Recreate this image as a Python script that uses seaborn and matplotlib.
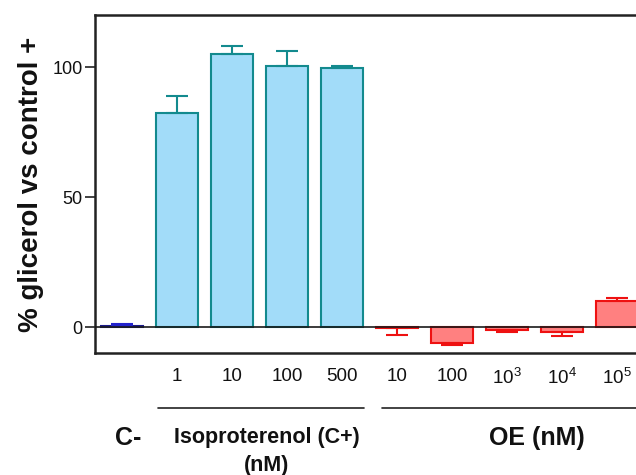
import matplotlib
matplotlib.use("Agg")
import matplotlib.pyplot as plt
import matplotlib.transforms as mtransforms
import seaborn as sns
import numpy as np
import pandas as pd

# ---- data ----
categories = ["C-", "1", "10", "100", "500", "10", "100", "10$^3$", "10$^4$", "10$^5$"]
groups = ["C-", "Iso", "Iso", "Iso", "Iso", "OE", "OE", "OE", "OE", "OE"]
values = [0.3, 82.5, 105.0, 100.5, 99.8, -0.3, -6.0, -1.2, -1.8, 10.0]
errors = [0.8, 6.5, 3.2, 5.7, 0.4, 2.6, 0.8, 0.6, 1.5, 1.2]
y_ticks = [0, 50, 100]
ylabel = "% glicerol vs control +"

fill_colors = {"C-": "#1a1a8c", "Iso": "#a2dcf9", "OE": "#ff8080"}
edge_colors = {"C-": "#1a1a8c", "Iso": "#138a8e", "OE": "#ee1111"}
err_colors = {"C-": "#2222cc", "Iso": "#138a8e", "OE": "#ee1111"}

sns.set_theme(style="white")
plt.rcParams["font.family"] = ["Liberation Sans", "DejaVu Sans"]
plt.rcParams["mathtext.fontset"] = "custom"
plt.rcParams["mathtext.rm"] = "Liberation Sans"
plt.rcParams["mathtext.default"] = "regular"

df = pd.DataFrame({"pos": list(range(len(values))), "value": values, "group": groups})

fig = plt.figure(figsize=(6.36, 4.75), dpi=100)
ax = fig.add_axes([95 / 636, 1 - 353 / 475, 1 - 95 / 636, (353 - 15) / 475])

sns.barplot(data=df, x="pos", y="value", hue="pos", legend=False,
            palette=[fill_colors[g] for g in groups], width=0.77,
            errorbar=None, ax=ax, saturation=1, zorder=2)

for patch, g in zip(ax.patches, groups):
    patch.set_edgecolor(edge_colors[g])
    patch.set_linewidth(1.5)

for i, (v, e, g) in enumerate(zip(values, errors, groups)):
    if v >= 0:
        yerr = [[0], [e]]
    else:
        yerr = [[e], [0]]
    ax.errorbar([i], [v], yerr=yerr, fmt="none", ecolor=err_colors[g],
                elinewidth=1.5, capsize=8, capthick=1.5, zorder=3)

ax.axhline(0, color="#1a1a1a", lw=1.2, zorder=4)

ax.set_xlim(-0.49, 9.35)
ax.set_ylim(-10, 120)
ax.set_yticks(y_ticks)
ax.set_yticklabels([str(t) for t in y_ticks], fontsize=13, color="#111111")
ax.set_xticks(range(len(categories)))
ax.set_xticklabels(["" if g == "C-" else c for c, g in zip(categories, groups)],
                   fontsize=13.5, color="#111111")
ax.tick_params(axis="x", length=0, pad=11)
ax.tick_params(axis="y", length=7, width=1.2, color="#222222", pad=2, left=True)
ax.set_xlabel("")
ax.set_ylabel(ylabel, fontsize=20, fontweight="bold", labelpad=6, color="#111111")

for side in ["left", "top", "bottom"]:
    ax.spines[side].set_visible(True)
    ax.spines[side].set_color("#222222")
    ax.spines[side].set_linewidth(1.8)
ax.spines["right"].set_visible(False)

# group annotations
trans = mtransforms.blended_transform_factory(ax.transData, ax.transAxes)
line_y = (353 - 408) / 338
ax.plot([0.65, 4.4], [line_y, line_y], color="#222222", lw=1.2,
        transform=trans, clip_on=False)
ax.plot([4.73, 9.6], [line_y, line_y], color="#222222", lw=1.2,
        transform=trans, clip_on=False)

def px(x, y):
    return x / 636, 1 - y / 475

fig.text(*px(128, 438), "C-", ha="center", va="center", fontsize=18, fontweight="bold", color="#111111")
fig.text(*px(267, 438), "Isoproterenol (C+)", ha="center", va="center", fontsize=15.5, fontweight="bold", color="#111111")
fig.text(*px(267, 465), "(nM)", ha="center", va="center", fontsize=15.5, fontweight="bold", color="#111111")
fig.text(*px(537, 438), "OE (nM)", ha="center", va="center", fontsize=18, fontweight="bold", color="#111111")

fig.savefig("out.png", dpi=100)
